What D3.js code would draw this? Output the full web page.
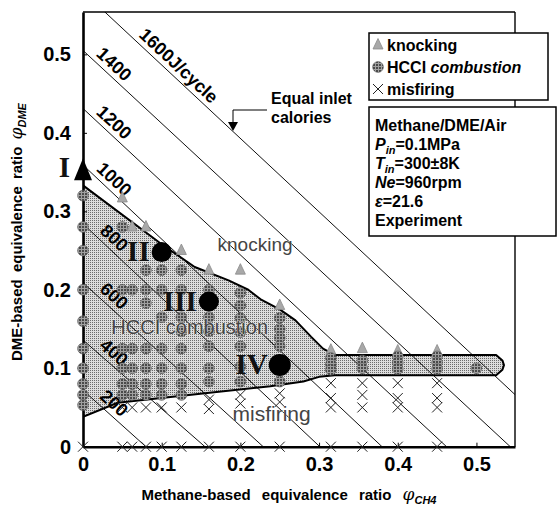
<!DOCTYPE html>
<html>
<head>
<meta charset="utf-8">
<script src="https://cdn.jsdelivr.net/npm/d3@7"></script>
<style>
  body { margin: 0; background: #fff; }
  svg text { font-family: "Liberation Sans", Arial, sans-serif; }
</style>
</head>
<body>
<svg id="chart" width="557" height="512"></svg>
<script>
// tick values
var xTicks = [0, 0.1, 0.2, 0.3, 0.4, 0.5];
var yTicks = [0, 0.1, 0.2, 0.3, 0.4, 0.5];

// equal inlet calorie lines : J/cycle, phiDME at phiCH4=0, phiCH4 at phiDME=0
var calEnergy = [200, 400, 600, 800, 1000, 1200, 1400, 1600];
var calDmeIcpt = [0.072, 0.136, 0.209, 0.284, 0.359, 0.431, 0.505, 0.58];
var calCh4Icpt = [0.08, 0.155, 0.229, 0.301, 0.38, 0.462, 0.543, 0.62];

// measured operating points [phiCH4, phiDME]
var hcciPts = [
  [0,0.32],[0,0.28],[0,0.25],[0,0.2],[0,0.16],[0,0.125],[0,0.1],[0,0.08],[0,0.066],[0,0.053],
  [0.05,0.28],[0.05,0.2],[0.05,0.125],[0.05,0.1],[0.05,0.08],[0.05,0.066],
  [0.0625,0.2],[0.0625,0.125],[0.0625,0.1],[0.0625,0.08],[0.0625,0.066],
  [0.08,0.225],[0.08,0.2],[0.08,0.183],[0.08,0.125],[0.08,0.1],[0.08,0.08],[0.08,0.066],
  [0.1,0.225],[0.1,0.2],[0.1,0.165],[0.1,0.125],[0.1,0.1],[0.1,0.08],[0.1,0.066],
  [0.125,0.225],[0.125,0.2],[0.125,0.165],[0.125,0.147],[0.125,0.125],[0.125,0.1],[0.125,0.08],[0.125,0.066],
  [0.16,0.2],[0.16,0.165],[0.16,0.147],[0.16,0.128],[0.16,0.1],[0.16,0.083],
  [0.2,0.196],[0.2,0.18],[0.2,0.164],[0.2,0.146],[0.2,0.128],[0.2,0.102],[0.2,0.083],
  [0.25,0.164],[0.25,0.15],[0.25,0.139],[0.25,0.128],[0.25,0.083],
  [0.315,0.113],[0.315,0.105],[0.315,0.098],
  [0.355,0.11],[0.355,0.1],
  [0.4,0.115],[0.4,0.107],[0.4,0.099],
  [0.45,0.115],[0.45,0.107],[0.45,0.099],
  [0.5,0.1]
];
var knockPts = [
  [0.05,0.317],[0.0625,0.28],[0.08,0.28],[0.125,0.25],[0.16,0.225],[0.2,0.225],
  [0.25,0.18],[0.315,0.123],[0.355,0.125],[0.4,0.122],[0.45,0.122]
];
var misfirePts = [
  [0,0],[0.05,0],[0.0625,0],[0.08,0],[0.1,0],[0.125,0],[0.16,0],[0.2,0],[0.25,0],
  [0.315,0],[0.355,0],[0.4,0],[0.45,0],
  [0.05,0.05],[0.0625,0.05],[0.08,0.05],[0.1,0.05],[0.125,0.05],
  [0.16,0.06],[0.16,0.048],[0.2,0.066],[0.2,0.055],[0.25,0.068],[0.25,0.057],
  [0.315,0.081],[0.315,0.062],[0.315,0.05],[0.355,0.081],[0.355,0.066],[0.355,0.05],
  [0.4,0.081],[0.4,0.062],[0.4,0.05],[0.45,0.081],[0.45,0.062],[0.45,0.05]
];

// HCCI operating region outline
var hcciRegion = [
  [0,0.333],[0.1,0.258],[0.142,0.229],[0.185,0.212],[0.21,0.2],[0.227,0.187],[0.25,0.175],
  [0.27,0.161],[0.29,0.14],[0.305,0.125],[0.32,0.117],
  [0.525,0.117],[0.533,0.11],[0.535,0.104],[0.533,0.098],[0.525,0.091],
  [0.32,0.091],[0.3,0.089],[0.28,0.083],[0.238,0.077],[0.155,0.068],[0.044,0.056],[0,0.038]
];

// conditions I..IV
var caseNames = ["I", "II", "III", "IV"];
var casePts = [[0,0.355],[0.1,0.248],[0.16,0.185],[0.25,0.104]];

var legendNames = ["knocking", "HCCI", "misfiring"];

var svg = d3.select("#chart");
var padL = 83, padR = 515, padT = 12, padB = 446.7;

var x = d3.scaleLinear().domain([0, 0.549]).range([padL, padR]);
var y = d3.scaleLinear().domain([0, 0.554]).range([padB, padT]);

var defs = svg.append("defs");

// stipple for the HCCI area
var stip = defs.append("pattern").attr("id", "stip")
  .attr("patternUnits", "userSpaceOnUse").attr("width", 2).attr("height", 2);
stip.append("rect").attr("width", 2).attr("height", 2).attr("fill", "#dcdcdc");
stip.append("rect").attr("width", 1).attr("height", 1).attr("fill", "#6a6a6a");

// grid look for the HCCI markers
var grid = defs.append("pattern").attr("id", "grid")
  .attr("patternUnits", "userSpaceOnUse").attr("width", 3).attr("height", 3);
grid.append("rect").attr("width", 3).attr("height", 3).attr("fill", "#4a4a4a");
grid.append("rect").attr("width", 1).attr("height", 3).attr("fill", "#a0a0a0");
grid.append("rect").attr("width", 3).attr("height", 1).attr("fill", "#a0a0a0");

defs.append("clipPath").attr("id", "plotClip")
  .append("rect").attr("x", padL).attr("y", padT)
  .attr("width", padR - padL).attr("height", padB - padT);

var plot = svg.append("g").attr("clip-path", "url(#plotClip)");

var regionLine = d3.line()
  .x(function(d){ return x(d[0]); })
  .y(function(d){ return y(d[1]); })
  .curve(d3.curveLinearClosed);

// shaded HCCI region
plot.append("path").datum(hcciRegion)
  .attr("d", regionLine)
  .attr("fill", "url(#stip)").attr("stroke", "none");

// equal calorie lines
var calData = calEnergy.map(function(e, i){ return { e: e, a: calDmeIcpt[i], b: calCh4Icpt[i] }; });
plot.selectAll(".cal").data(calData).enter().append("line")
  .attr("x1", function(d){ return x(0); })
  .attr("y1", function(d){ return y(d.a); })
  .attr("x2", function(d){ return x(d.b); })
  .attr("y2", function(d){ return y(0); })
  .attr("stroke", "#111").attr("stroke-width", 1);

// region outline on top of the lines
plot.append("path").datum(hcciRegion)
  .attr("d", regionLine)
  .attr("fill", "none").attr("stroke", "#000").attr("stroke-width", 2)
  .attr("stroke-linejoin", "round");

// labels along the calorie lines
calData.forEach(function(d) {
  var at = d.e === 1600 ? 0.112 : 0.03;
  var px = x(at), py = y(d.a * (1 - at / d.b));
  var ang = Math.atan2(y(0) - y(d.a), x(d.b) - x(0)) * 180 / Math.PI;
  svg.append("text")
    .attr("transform", "translate(" + px + "," + py + ") rotate(" + ang + ")")
    .attr("dy", -5)
    .attr("text-anchor", "middle")
    .style("font-size", "18px").style("font-weight", "bold")
    .text(d.e === 1600 ? "1600J/cycle" : d.e);
});

// frame
svg.append("line").attr("x1", padL).attr("x2", padR).attr("y1", padT).attr("y2", padT)
  .attr("stroke", "#000").attr("stroke-width", 1.6);
svg.append("line").attr("x1", padR).attr("x2", padR).attr("y1", padT).attr("y2", padB)
  .attr("stroke", "#000").attr("stroke-width", 1.4);

// axes
var fmt = function(d){ return d === 0 ? "0" : d3.format(".1f")(d); };
var xAxis = svg.append("g").attr("transform", "translate(0," + padB + ")")
  .call(d3.axisBottom(x).tickValues(xTicks).tickSizeInner(-4).tickSizeOuter(0).tickPadding(10).tickFormat(fmt));
var yAxis = svg.append("g").attr("transform", "translate(" + padL + ",0)")
  .call(d3.axisLeft(y).tickValues(yTicks).tickSizeInner(-4).tickSizeOuter(0).tickPadding(12).tickFormat(fmt));
[xAxis, yAxis].forEach(function(a) {
  a.select(".domain").attr("stroke", "#000").attr("stroke-width", 2.6);
  a.selectAll(".tick line").attr("stroke", "#000").attr("stroke-width", 1);
  a.selectAll(".tick text").style("font-size", "20px").style("font-weight", "bold")
    .style("font-family", "'Liberation Sans', Arial, sans-serif").attr("fill", "#000");
});

// marker helpers
function drawHcci(g, cx, cy) {
  g.append("circle").attr("cx", cx).attr("cy", cy).attr("r", 5.4)
    .attr("fill", "url(#grid)").attr("stroke", "#555").attr("stroke-width", 0.6);
}
function drawKnock(g, cx, cy) {
  g.append("path")
    .attr("d", "M" + cx + "," + (cy - 6.5) + "L" + (cx + 5) + "," + (cy + 4) + "L" + (cx - 5) + "," + (cy + 4) + "Z")
    .attr("fill", "#a8a8a8").attr("stroke", "#8a8a8a").attr("stroke-width", 0.8);
}
function drawMisfire(g, cx, cy) {
  g.append("path")
    .attr("d", "M" + (cx - 5) + "," + (cy - 5) + "L" + (cx + 5) + "," + (cy + 5) + "M" + (cx + 5) + "," + (cy - 5) + "L" + (cx - 5) + "," + (cy + 5))
    .attr("stroke", "#222").attr("stroke-width", 1).attr("fill", "none");
}

var marks = svg.append("g");
misfirePts.forEach(function(p){ drawMisfire(marks, x(p[0]), y(p[1])); });
knockPts.forEach(function(p){ drawKnock(marks, x(p[0]), y(p[1])); });
hcciPts.forEach(function(p){ drawHcci(marks, x(p[0]), y(p[1])); });

// region names
var regionText = [
  { t: "knocking", p: [0.171, 0.25], s: 19 },
  { t: "HCCI combustion", p: [0.036, 0.143], s: 20 },
  { t: "misfiring", p: [0.19, 0.033], s: 21 }
];
svg.selectAll(".region").data(regionText).enter().append("text")
  .attr("x", function(d){ return x(d.p[0]); })
  .attr("y", function(d){ return y(d.p[1]); })
  .style("font-size", function(d){ return d.s + "px"; })
  .attr("fill", "#444")
  .attr("stroke", "#fff").attr("stroke-width", 0.6).attr("paint-order", "stroke")
  .text(function(d){ return d.t; });

// cases I..IV
casePts.forEach(function(p, i) {
  var cx = x(p[0]), cy = y(p[1]);
  if (i === 0) {
    svg.append("path")
      .attr("d", "M" + cx + "," + (cy - 10) + "L" + (cx + 9) + "," + (cy + 12) + "L" + (cx - 9) + "," + (cy + 12) + "Z")
      .attr("fill", "#000");
  } else {
    svg.append("circle").attr("cx", cx).attr("cy", cy).attr("r", i === 3 ? 11 : 10).attr("fill", "#000");
  }
  svg.append("text")
    .attr("x", cx - (i === 0 ? 13 : 12))
    .attr("y", cy + 9)
    .attr("text-anchor", "end")
    .style("font-family", "'Liberation Serif', 'Times New Roman', serif")
    .style("font-weight", "bold").style("font-size", "29px")
    .attr("fill", "#111")
    .text(caseNames[i]);
});

// equal inlet calories annotation
svg.append("path")
  .attr("d", "M267,110 L233,110 L233,124")
  .attr("fill", "none").attr("stroke", "#000").attr("stroke-width", 1);
svg.append("path")
  .attr("d", "M228,122 L238,122 L233,131 Z").attr("fill", "#000");
svg.append("text").attr("x", 271).attr("y", 104)
  .style("font-size", "16px").style("font-weight", "bold").text("Equal inlet");
svg.append("text").attr("x", 271).attr("y", 123)
  .style("font-size", "16px").style("font-weight", "bold").text("calories");

// legend
var leg = svg.append("g");
leg.append("rect").attr("x", 369).attr("y", 33).attr("width", 179).attr("height", 67)
  .attr("fill", "#fff").attr("stroke", "#000").attr("stroke-width", 1.5);
legendNames.forEach(function(n, i) {
  var cy = 45 + i * 22;
  if (i === 0) drawKnock(leg, 378, cy);
  if (i === 1) drawHcci(leg, 378, cy);
  if (i === 2) drawMisfire(leg, 378, cy);
  var t = leg.append("text").attr("x", 387).attr("y", cy + 6)
    .style("font-size", "16px").style("font-weight", "bold");
  if (n === "HCCI") {
    t.append("tspan").text("HCCI ");
    t.append("tspan").style("font-style", "italic").text("combustion");
  } else {
    t.text(n);
  }
});

// conditions box
var cond = svg.append("g");
cond.append("rect").attr("x", 369).attr("y", 107).attr("width", 187).attr("height", 129)
  .attr("fill", "#fff").attr("stroke", "#000").attr("stroke-width", 1.5);
var condRows = [
  [["Methane/DME/Air", ""]],
  [["P", "i"], ["in", "s"], ["=0.1MPa", "u"]],
  [["T", "i"], ["in", "s"], ["=300\u00b18K", "u"]],
  [["Ne", "i"], ["=960rpm", ""]],
  [["\u03b5", "i"], ["=21.6", ""]],
  [["Experiment", ""]]
];
condRows.forEach(function(row, i) {
  var t = cond.append("text").attr("x", 375).attr("y", 131 + i * 19)
    .style("font-size", "16px").style("font-weight", "bold");
  row.forEach(function(part) {
    var s = t.append("tspan").text(part[0]);
    if (part[1] === "i") s.style("font-style", "italic");
    if (part[1] === "s") s.style("font-style", "italic").style("font-size", "11px").attr("dy", 4);
    if (part[1] === "u") s.attr("dy", -4);
  });
});

// axis titles
var yTitle = svg.append("text")
  .attr("transform", "translate(22,232) rotate(-90)")
  .attr("text-anchor", "middle")
  .style("font-size", "15px").style("font-weight", "bold")
  .style("word-spacing", "3px");
yTitle.append("tspan").text("DME-based equivalence ratio ");
yTitle.append("tspan").style("font-family", "'DejaVu Serif', serif").style("font-style", "italic").style("font-weight", "normal").style("font-size", "17px").text("\u03c6");
yTitle.append("tspan").style("font-style", "italic").style("font-size", "11px").attr("dy", 4).text("DME");

var xTitle = svg.append("text")
  .attr("x", 289).attr("y", 500)
  .attr("text-anchor", "middle")
  .style("font-size", "15px").style("font-weight", "bold")
  .style("word-spacing", "7px");
xTitle.append("tspan").text("Methane-based equivalence ratio ");
xTitle.append("tspan").style("font-family", "'DejaVu Serif', serif").style("font-style", "italic").style("font-weight", "normal").style("font-size", "17px").text("\u03c6");
xTitle.append("tspan").style("font-style", "italic").style("font-size", "11px").attr("dy", 4).text("CH4");
</script>
</body>
</html>
